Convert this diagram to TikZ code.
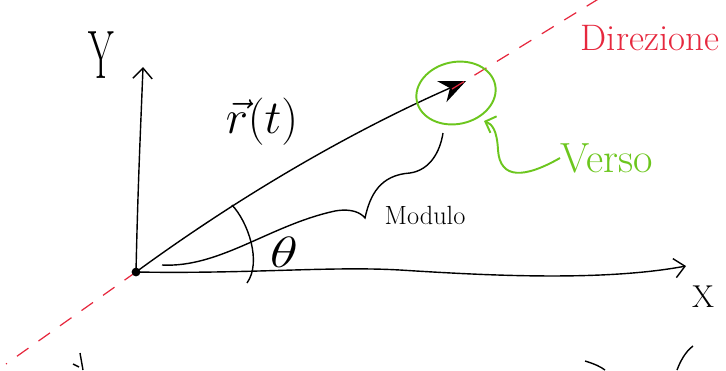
\documentclass[tikz,border=0pt]{standalone}
\usepackage{amsmath}
\usetikzlibrary{arrows.meta, positioning, calc}

\definecolor{pen_red}{RGB}{230,40,62}
\definecolor{pen_green}{RGB}{108,198,30}

\begin{document}
\begin{tikzpicture}[
    x=0.02cm, y=-0.02cm,
    axis_line/.style={-{Straight Barb[length=6pt, width=11pt]}, line width=0.8pt},
    vec_arrow/.style={-{Stealth[length=15pt, width=13pt, inset=5pt]}, line width=0.8pt},
    dir_line/.style={draw=pen_red, line width=0.7pt, dash pattern=on 8pt off 7pt},
    verso_mark/.style={draw=pen_green, line width=1.1pt},
    pen_line/.style={line width=0.8pt},
    hand_label/.style={inner sep=0pt}
]
    \useasboundingbox (0,0) rectangle (726,370);

    % ========== POINTS ==========
    \coordinate (origin) at (136,272);
    \coordinate (y_end) at (143,67);
    \coordinate (x_end) at (686,266);
    \coordinate (tip) at (466,81);
    \coordinate (dir_low) at (6,364);
    \coordinate (dir_start) at (452,89);
    \coordinate (dir_high) at (600,-2);
    \coordinate (verso_tip) at (484,121);
    \coordinate (brace_a) at (162,265);
    \coordinate (brace_tip) at (365,218);
    \coordinate (brace_b) at (443,133);
    \coordinate (theta_a) at (232,205);
    \coordinate (theta_b) at (247,283);

    % ========== AXES ==========
    \draw[axis_line] (origin) .. controls (138,180) and (141,120) .. (y_end);
    \draw[axis_line] (origin) .. controls (250,274) and (330,266) .. (400,270)
        .. controls (480,275) and (600,282) .. (x_end);
    \node[hand_label, font=\fontsize{30}{34}\selectfont] (y_text) at (101,55) {\scalebox{0.7}[1.3]{Y}};
    \node[hand_label, font=\fontsize{18}{22}\selectfont] (x_text) at (703,297) {X};

    % ========== DIRECTION (red) ==========
    \draw[dir_line] (origin) -- (dir_low);
    \node[hand_label, text=pen_red, font=\fontsize{21}{25}\selectfont] (dir_text) at (650,38) {Direzione};

    % ========== VECTOR ==========
    \draw[vec_arrow] (origin) .. controls (240,196) and (350,132) .. (tip);
    \draw[dir_line] (dir_start) -- (dir_high);
    \fill (origin) circle [radius=2.5pt];
    \node[hand_label, font=\fontsize{22}{26}\selectfont] (vec_text) at (262,122) {\scalebox{1.3}{$\vec{r}(t)$}};

    % Angle
    \draw[pen_line] (theta_a) .. controls (248,222) and (262,262) .. (theta_b);
    \node[hand_label, font=\fontsize{20}{24}\selectfont] (theta_text) at (284,252) {\scalebox{1.6}[1.2]{$\theta$}};

    % ========== MODULO ==========
    \draw[pen_line] (brace_a) .. controls (220,268) and (270,225) .. (335,211)
        .. controls (352,208) and (361,213) .. (brace_tip)
        .. controls (370,195) and (380,175) .. (410,173)
        .. controls (430,170) and (440,152) .. (brace_b);
    \node[hand_label, font=\fontsize{15}{18}\selectfont] (mod_text) at (425,215) {Modulo};

    % ========== VERSO (green) ==========
    \draw[verso_mark] (456,93) ellipse [x radius=0.8cm, y radius=0.62cm, rotate=12];
    \node[hand_label, text=pen_green, font=\fontsize{24}{28}\selectfont, anchor=west] (verso_text) at (560,158) {Verso};
    \draw[verso_mark, -{Straight Barb[length=5pt, width=10pt]}] (verso_text.west)
        .. controls (525,178) and (500,180) .. (498,150)
        .. controls (497,130) and (492,124) .. (verso_tip);

    % cut-off strokes at the bottom
    \draw[pen_line] (80,353) -- (83,370);
    \draw[pen_line] (73,364) -- (79,367);
    \draw[pen_line] (585,361) .. controls (595,364) and (601,367) .. (605,370);
    \draw[pen_line] (693,346) .. controls (685,352) and (680,362) .. (677,370);

\end{tikzpicture}
\end{document}
